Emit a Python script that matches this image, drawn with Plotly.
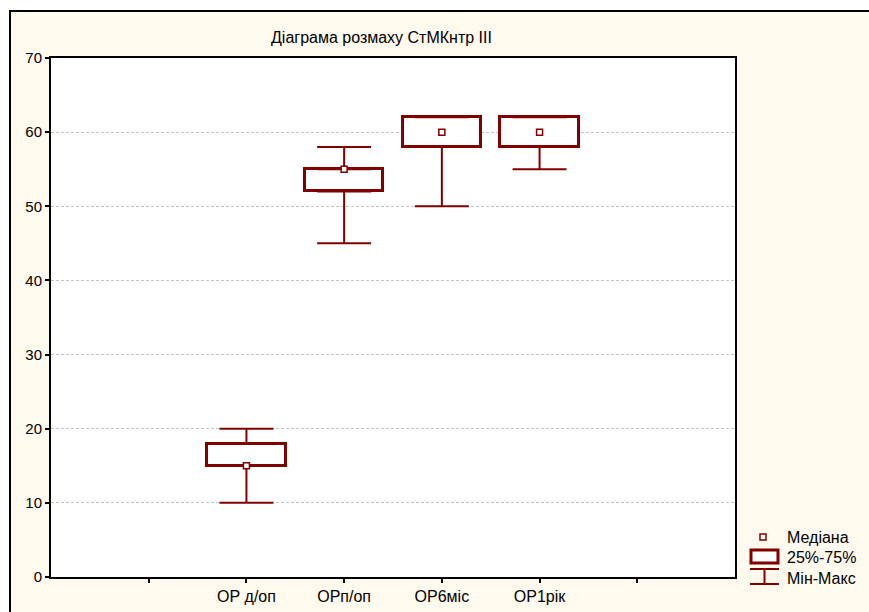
import plotly.graph_objects as go

# Range plot data: min / quartiles / median / max per category
categories = ["ОР д/оп", "ОРп/оп", "ОР6міс", "ОР1рік"]
positions = [2, 3, 4, 5]
q_min = [10, 45, 50, 55]
q1 = [15, 52, 58, 58]
median = [15, 55, 60, 60]
q3 = [18, 55, 62, 62]
q_max = [20, 58, 62, 62]

tick_positions = [1, 2, 3, 4, 5, 6]
tick_labels = [""] + categories + [""]

MAROON = "#800000"
CREAM = "#FFF9EE"
FONT = "Liberation Sans, Arial, sans-serif"

W, H = 869, 612
ML, MR, MT, MB = 51, 134, 58, 35
PW, PH = W - ML - MR, H - MT - MB


def px_x(px):
    return (px - ML) / PW


def px_y(py):
    return (H - MB - py) / PH


fig = go.Figure()

# 25%-75% boxes
fig.add_trace(go.Bar(
    x=positions,
    y=[b - a for a, b in zip(q1, q3)],
    base=q1,
    width=0.8,
    marker=dict(color="white", line=dict(color=MAROON, width=3)),
    showlegend=False,
    hoverinfo="skip",
))

# upper whiskers (q3 -> max)
fig.add_trace(go.Scatter(
    x=positions, y=q3, mode="markers",
    marker=dict(size=1, color="rgba(0,0,0,0)"),
    error_y=dict(type="data", symmetric=False,
                 array=[b - a for a, b in zip(q3, q_max)],
                 arrayminus=[0] * len(q3),
                 color=MAROON, thickness=2, width=27),
    showlegend=False, hoverinfo="skip",
))

# lower whiskers (q1 -> min)
fig.add_trace(go.Scatter(
    x=positions, y=q1, mode="markers",
    marker=dict(size=1, color="rgba(0,0,0,0)"),
    error_y=dict(type="data", symmetric=False,
                 array=[0] * len(q1),
                 arrayminus=[a - b for a, b in zip(q1, q_min)],
                 color=MAROON, thickness=2, width=27),
    showlegend=False, hoverinfo="skip",
))

# medians
fig.add_trace(go.Scatter(
    x=positions, y=median, mode="markers",
    marker=dict(symbol="square", size=6, color="white",
                line=dict(color=MAROON, width=1.5)),
    showlegend=False, hoverinfo="skip",
))

shapes = [
    # outer frame with cream background
    dict(type="rect", xref="paper", yref="paper", layer="below",
         x0=px_x(10), x1=px_x(W + 20), y0=px_y(H + 20), y1=px_y(11),
         fillcolor=CREAM, line=dict(color="black", width=2)),
    # white plotting area
    dict(type="rect", xref="paper", yref="paper", layer="below",
         x0=0, x1=1, y0=0, y1=1,
         fillcolor="white", line=dict(width=0)),
    # legend: median marker
    dict(type="rect", xref="paper", yref="paper",
         x0=px_x(760), x1=px_x(766), y0=px_y(540), y1=px_y(534),
         fillcolor="white", line=dict(color=MAROON, width=1.5)),
    # legend: box
    dict(type="rect", xref="paper", yref="paper",
         x0=px_x(751), x1=px_x(778), y0=px_y(563), y1=px_y(550),
         fillcolor="white", line=dict(color=MAROON, width=3)),
    # legend: whisker
    dict(type="line", xref="paper", yref="paper",
         x0=px_x(750), x1=px_x(779), y0=px_y(569), y1=px_y(569),
         line=dict(color=MAROON, width=2)),
    dict(type="line", xref="paper", yref="paper",
         x0=px_x(764.5), x1=px_x(764.5), y0=px_y(569), y1=px_y(584),
         line=dict(color=MAROON, width=2)),
    dict(type="line", xref="paper", yref="paper",
         x0=px_x(750), x1=px_x(779), y0=px_y(584), y1=px_y(584),
         line=dict(color=MAROON, width=2)),
]

legend_items = [("Медіана", 537), ("25%-75%", 557), ("Мін-Макс", 578)]
annotations = [
    dict(text="Діаграма розмаху СтМКнтр III", xref="paper", yref="paper",
         x=px_x(381), y=px_y(37), showarrow=False,
         font=dict(family=FONT, size=16, color="black"),
         xanchor="center", yanchor="middle"),
]
for label, py in legend_items:
    annotations.append(dict(
        text=label, xref="paper", yref="paper", x=px_x(785), y=px_y(py),
        showarrow=False, xanchor="left", yanchor="middle",
        font=dict(family=FONT, size=16, color="black")))

fig.update_layout(
    width=W, height=H,
    margin=dict(l=ML, r=MR, t=MT, b=MB, pad=0),
    paper_bgcolor="white",
    plot_bgcolor="white",
    font=dict(family=FONT, color="black"),
    shapes=shapes,
    annotations=annotations,
    showlegend=False,
    bargap=0,
)

fig.update_xaxes(
    range=[0, 7], tickmode="array", tickvals=tick_positions, ticktext=tick_labels,
    showgrid=False, zeroline=False, automargin=False,
    showline=True, mirror=True, linecolor="black", linewidth=2,
    ticks="outside", ticklen=4, tickwidth=1.5, tickcolor="black",
    tickfont=dict(family=FONT, size=16, color="black"),
)
fig.update_yaxes(
    range=[0, 70], tickmode="linear", tick0=0, dtick=10,
    showgrid=True, gridcolor="#c4c4c4", gridwidth=1, griddash="3px,2px",
    zeroline=False, automargin=False,
    showline=True, mirror=True, linecolor="black", linewidth=2,
    ticks="outside", ticklen=4, tickwidth=1.5, tickcolor="black",
    tickfont=dict(family=FONT, size=15, color="black"),
)

fig.write_html("out.html")
